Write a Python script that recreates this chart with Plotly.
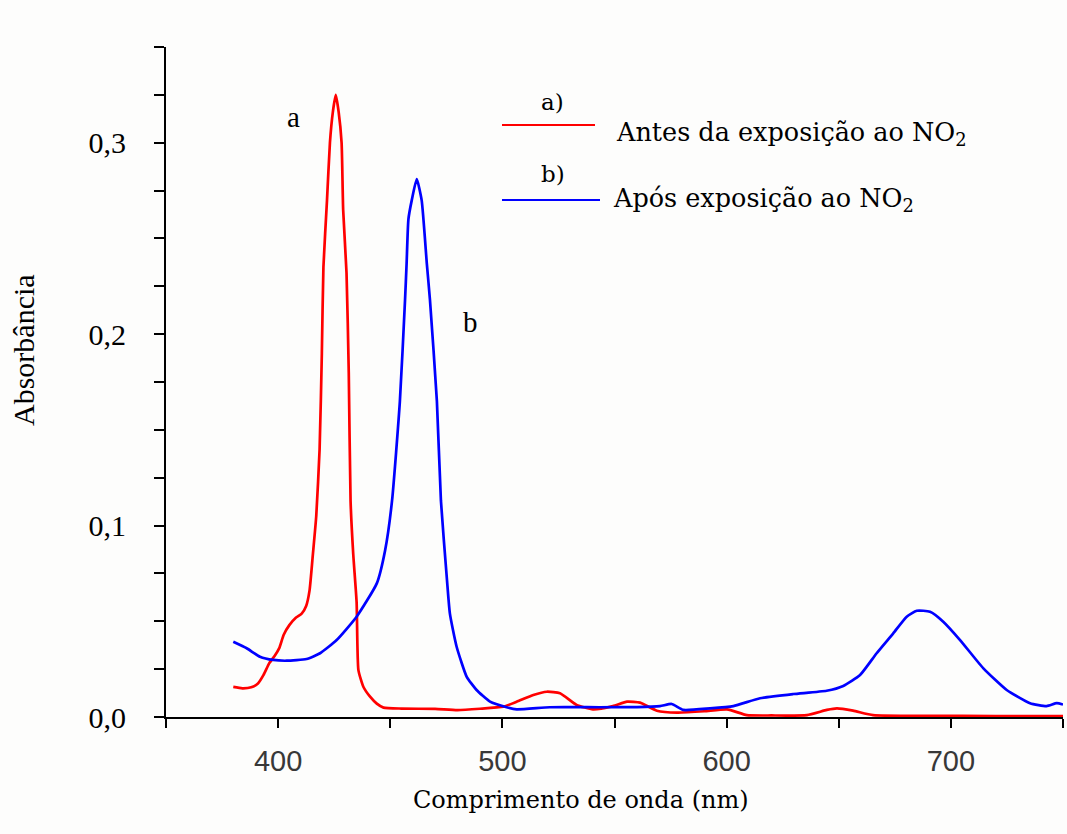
import plotly.graph_objects as go

# ---- data ----
wl_a = [380, 384, 388, 391, 393.5, 396, 398.5, 400.5, 402.5, 405, 408, 410.5, 412.5, 414, 415.5, 417,
        418.5, 419.5, 420.2, 421.8, 423.1, 424.4, 425.7, 427.0, 428.3, 429.0, 430.5, 431.5, 432.3, 433.5,
        435.0, 435.8, 438.0, 441.0, 444.0, 447.0, 455, 470, 480, 490, 500.4, 506.4, 513.8, 519.8, 525.7,
        533.1, 540.4, 549.3, 555.6, 561.4, 568.9, 577.9, 590, 600.2, 609, 620, 635.8, 644.7, 649.2, 656.4,
        665.3, 690, 720, 750]
abs_a = [0.0157, 0.0150, 0.0155, 0.0175, 0.022, 0.028, 0.032, 0.036, 0.043, 0.048, 0.052, 0.054, 0.058,
         0.066, 0.085, 0.105, 0.14, 0.19, 0.235, 0.270, 0.300, 0.316, 0.325, 0.316, 0.300, 0.265, 0.232,
         0.18, 0.113, 0.085, 0.060, 0.0245, 0.0158, 0.0106, 0.007, 0.0049, 0.0044, 0.0042, 0.0036, 0.0043,
         0.0054, 0.008, 0.0115, 0.0132, 0.0124, 0.0063, 0.004, 0.0057, 0.008, 0.0075, 0.0033, 0.0023,
         0.003, 0.004, 0.001, 0.0008, 0.001, 0.0037, 0.0045, 0.0033, 0.001, 0.0006, 0.0005, 0.0005]

wl_b = [380, 386, 391.9, 397.8, 403.8, 412.7, 418.7, 426.1, 435, 444, 447.7, 450.8, 454.3, 456.6, 457.3,
        458.1, 459.6, 461.8, 464, 466.3, 467.7, 470.8, 472.6, 475.3, 476.6, 479.6, 484.1, 488.5, 494.5,
        501.9, 506.4, 521.2, 543.5, 560, 570.3, 575.5, 580.7, 592.6, 603, 614.9, 629.7, 644.6, 652, 659.5,
        666.9, 674.3, 680.3, 684.8, 690.7, 696.6, 704.1, 714.5, 724.9, 735.3, 742.7, 747.2, 750]
abs_b = [0.0393, 0.0359, 0.0315, 0.0298, 0.0294, 0.0303, 0.0333, 0.0402, 0.0524, 0.0698, 0.087, 0.113,
         0.165, 0.218, 0.237, 0.260, 0.270, 0.281, 0.270, 0.237, 0.218, 0.165, 0.113, 0.0715, 0.054,
         0.0367, 0.021, 0.0141, 0.008, 0.0051, 0.004, 0.0051, 0.0051, 0.0052, 0.0057, 0.0068, 0.0037,
         0.0045, 0.0057, 0.0098, 0.012, 0.0137, 0.0162, 0.0219, 0.0333, 0.0437, 0.0524, 0.0555, 0.055,
         0.0498, 0.0402, 0.0254, 0.0141, 0.0072, 0.0057, 0.0072, 0.0065]

x_ticks = [400, 500, 600, 700]
y_ticks = [0.0, 0.1, 0.2, 0.3]
y_tick_labels = ["0,0", "0,1", "0,2", "0,3"]

label_a = "Antes da exposição ao NO<sub>2</sub>"
label_b = "Após exposição ao NO<sub>2</sub>"

W, H = 1067, 834
L, R, T, B = 166, 4, 47, 117
PW, PH = W - L - R, H - T - B


def px(xp):
    return (xp - L) / PW


def py(yp):
    return (H - B - yp) / PH


fig = go.Figure()
fig.add_trace(go.Scatter(x=wl_a, y=abs_a, mode="lines",
                         line=dict(color="#ff0000", width=2.7, shape="spline", smoothing=0.5),
                         showlegend=False))
fig.add_trace(go.Scatter(x=wl_b, y=abs_b, mode="lines",
                         line=dict(color="#0000ff", width=2.7, shape="spline", smoothing=0.5),
                         showlegend=False))

serif = "Liberation Serif"
bmserif = "DejaVu Serif"

fig.update_layout(
    width=W, height=H,
    margin=dict(l=L, r=R, t=T, b=B),
    paper_bgcolor="#fdfdfc", plot_bgcolor="#fdfdfc",
    xaxis=dict(range=[350, 750], showgrid=False, zeroline=False, showline=True, linecolor="black",
               linewidth=2, ticks="outside", ticklen=9, tickwidth=2, tickcolor="black",
               tickvals=x_ticks, ticktext=[str(v) for v in x_ticks],
               minor=dict(dtick=50, tick0=350, ticks="outside", ticklen=9, tickwidth=2, tickcolor="black"),
               tickfont=dict(family="Liberation Sans", size=29, color="#383838"),
               ticklabelstandoff=8),
    yaxis=dict(range=[0, 0.35], showgrid=False, zeroline=False, showline=True, linecolor="black",
               linewidth=2, ticks="outside", ticklen=10, tickwidth=2, tickcolor="black",
               tickvals=y_ticks, ticktext=y_tick_labels,
               minor=dict(dtick=0.025, tick0=0, ticks="outside", ticklen=10, tickwidth=2, tickcolor="black"),
               tickfont=dict(family=serif, size=30, color="black"),
               ticklabelstandoff=22),
)

anns = [
    dict(text="Absorbância", x=px(24), y=py(350), textangle=-90,
         font=dict(family=serif, size=30, color="black")),
    dict(text="Comprimento de onda (nm)", x=px(581), y=py(800),
         font=dict(family=bmserif, size=24, color="black")),
    dict(text="a", x=px(293), y=py(117), font=dict(family=serif, size=29, color="black")),
    dict(text="b", x=px(470), y=py(322), font=dict(family=serif, size=29, color="black")),
    dict(text="a)", x=px(552), y=py(102), font=dict(family=bmserif, size=23, color="black")),
    dict(text="b)", x=px(553), y=py(174), font=dict(family=bmserif, size=23, color="black")),
    dict(text=label_a, x=px(614), y=py(134), xanchor="left", font=dict(family=bmserif, size=25.5, color="black")),
    dict(text=label_b, x=px(611), y=py(200), xanchor="left", font=dict(family=bmserif, size=25.5, color="black")),
]
for a in anns:
    a.setdefault("xanchor", "center")
    fig.add_annotation(xref="paper", yref="paper", showarrow=False, yanchor="middle", **a)

fig.add_shape(type="line", xref="paper", yref="paper", x0=px(502), x1=px(595), y0=py(125), y1=py(125),
              line=dict(color="#ff0000", width=2))
fig.add_shape(type="line", xref="paper", yref="paper", x0=px(502), x1=px(600), y0=py(200), y1=py(200),
              line=dict(color="#0000ff", width=2))

fig.write_html("out.html")
